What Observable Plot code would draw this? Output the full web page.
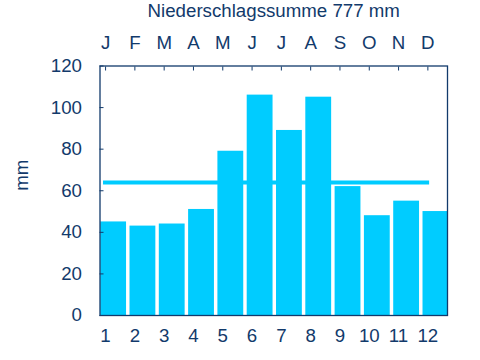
<!DOCTYPE html>
<html>
<head>
<meta charset="utf-8">
<script src="https://cdn.jsdelivr.net/npm/d3@7"></script>
<script src="https://cdn.jsdelivr.net/npm/@observablehq/plot@0.6"></script>
<style>
  html, body { margin: 0; padding: 0; background: #fff; }
</style>
</head>
<body>
<div id="chart"></div>
<script>
const months = [1, 2, 3, 4, 5, 6, 7, 8, 9, 10, 11, 12];
const monthLetters = ["J", "F", "M", "A", "M", "J", "J", "A", "S", "O", "N", "D"];
const precip = [45, 43, 44, 51, 79, 106, 89, 105, 62, 48, 55, 50];
const average = 64;
const yTicks = [0, 20, 40, 60, 80, 100, 120];
const title = "Niederschlagssumme 777 mm";
const yLabel = "mm";

const navy = "#123a6b";
const cyan = "#00ccff";

const data = months.map((m, i) => ({m, v: precip[i]}));

const chart = Plot.plot({
  width: 480,
  height: 360,
  marginTop: 65.5,
  marginBottom: 45,
  marginLeft: 99.5,
  marginRight: 33,
  style: {fontSize: "18.7px", fontFamily: "'Liberation Sans', Arial, sans-serif", color: navy, background: "#fff"},
  x: {type: "linear", domain: [0.81, 12.67]},
  y: {domain: [0, 120]},
  marks: [
    Plot.rectY(data, {x1: d => d.m - 0.2, x2: d => d.m + 0.75, y: "v", fill: cyan, insetLeft: 1, insetRight: 1, clip: true}),
    Plot.ruleY([average], {x1: 0.93, x2: 12.06, stroke: cyan, strokeWidth: 4}),
    Plot.axisX({anchor: "top", ticks: months, tickFormat: d => monthLetters[d - 1], tickSize: -4, tickPadding: 21, label: null, stroke: navy}),
    Plot.axisX({anchor: "bottom", ticks: months, tickFormat: d => String(d), tickSize: 0, tickPadding: 13, label: null}),
    Plot.axisY({ticks: yTicks, tickSize: -4, tickPadding: 22, label: null, stroke: navy}),
    Plot.frame({stroke: navy, strokeWidth: 1.3}),
    Plot.text([title], {frameAnchor: "top", dy: -62, fill: navy}),
    Plot.text([yLabel], {frameAnchor: "left", dx: -78, rotate: -90, fill: navy})
  ]
});
document.getElementById("chart").appendChild(chart);
</script>
</body>
</html>
